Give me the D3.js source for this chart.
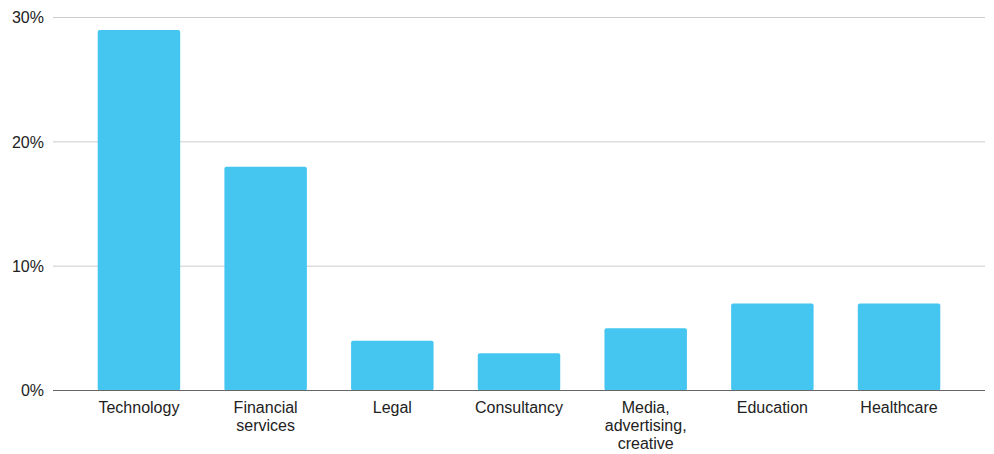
<!DOCTYPE html>
<html>
<head>
<meta charset="utf-8">
<script src="https://cdn.jsdelivr.net/npm/d3@7"></script>
<style>
  html, body { margin: 0; padding: 0; background: #fff; }
  svg { display: block; font-family: "Liberation Sans", Arial, sans-serif; }
</style>
</head>
<body>
<svg id="chart" width="994" height="454"></svg>
<script>
// Share of respondents by sector (percent)
const categories = [
  ["Technology"],
  ["Financial", "services"],
  ["Legal"],
  ["Consultancy"],
  ["Media,", "advertising,", "creative"],
  ["Education"],
  ["Healthcare"]
];
const values = [29, 18, 4, 3, 5, 7, 7];
const yTicks = [0, 10, 20, 30];

const svg = d3.select("#chart");
const plotLeft = 53, plotRight = 985, plotTop = 17.5, plotBottom = 390.5;

const keys = categories.map(c => c.join(" "));
const x = d3.scaleBand()
  .domain(keys)
  .range([plotLeft, plotRight])
  .paddingInner(0.349)
  .paddingOuter(0.353);

const y = d3.scaleLinear().domain([0, 30]).range([plotBottom, plotTop]);

// Horizontal gridlines
svg.append("g")
  .selectAll("line")
  .data(yTicks.filter(t => t !== 0))
  .join("line")
  .attr("x1", plotLeft).attr("x2", plotRight)
  .attr("y1", d => y(d)).attr("y2", d => y(d))
  .attr("stroke", "#cccccc").attr("stroke-width", 1);

// Y tick labels
svg.append("g")
  .selectAll("text")
  .data(yTicks)
  .join("text")
  .attr("x", 44)
  .attr("y", d => y(d))
  .attr("dy", "0.36em")
  .attr("text-anchor", "end")
  .attr("font-size", 16)
  .attr("fill", "#222")
  .text(d => d + "%");

// Bars
svg.append("g")
  .selectAll("rect")
  .data(values)
  .join("rect")
  .attr("x", (d, i) => x(keys[i]))
  .attr("y", d => y(d))
  .attr("width", x.bandwidth())
  .attr("height", d => plotBottom - y(d))
  .attr("rx", 2)
  .attr("fill", "#45c6f0");

// Baseline
svg.append("line")
  .attr("x1", plotLeft).attr("x2", plotRight)
  .attr("y1", plotBottom).attr("y2", plotBottom)
  .attr("stroke", "#666").attr("stroke-width", 1.2);

// Category labels (wrapped)
const lab = svg.append("g")
  .selectAll("text")
  .data(categories)
  .join("text")
  .attr("x", (d, i) => x(keys[i]) + x.bandwidth() / 2)
  .attr("y", 413)
  .attr("text-anchor", "middle")
  .attr("font-size", 16)
  .attr("fill", "#222");
lab.selectAll("tspan")
  .data(d => d)
  .join("tspan")
  .attr("x", function () { return this.parentNode.getAttribute("x"); })
  .attr("dy", (d, i) => i === 0 ? 0 : 18)
  .text(d => d);
</script>
</body>
</html>
